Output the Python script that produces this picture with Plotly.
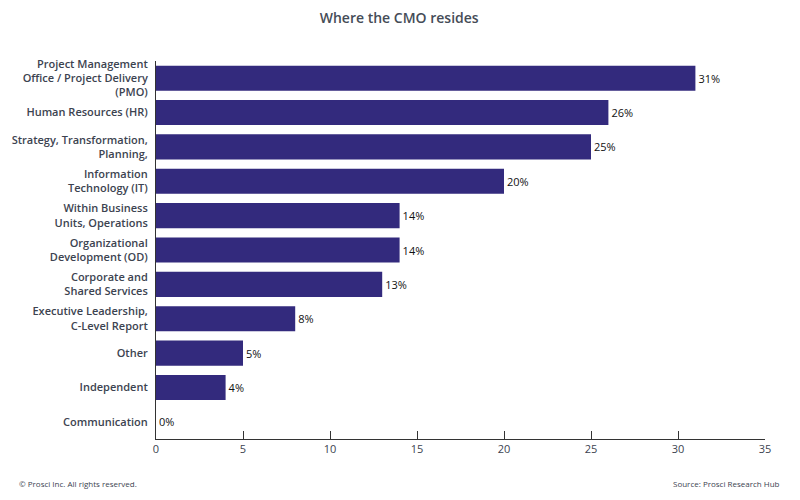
import plotly.graph_objects as go

categories = [
    "Project Management<br>Office / Project Delivery<br>(PMO)",
    "Human Resources (HR)",
    "Strategy, Transformation,<br>Planning,",
    "Information<br>Technology (IT)",
    "Within Business<br>Units, Operations",
    "Organizational<br>Development (OD)",
    "Corporate and<br>Shared Services",
    "Executive Leadership,<br>C-Level Report",
    "Other",
    "Independent",
    "Communication",
]
values = [31, 26, 25, 20, 14, 14, 13, 8, 5, 4, 0]
x_ticks = [0, 5, 10, 15, 20, 25, 30, 35]

bar_color = "#332a7d"
text_color = "#3c4350"
font_family = "Open Sans, sans-serif"

fig = go.Figure(
    go.Bar(
        x=values,
        y=categories,
        orientation="h",
        marker=dict(color=bar_color, line=dict(width=0)),
        text=[f"{v}%" for v in values],
        textposition="outside",
        textfont=dict(family=font_family, size=11, color="#111111"),
        cliponaxis=False,
        width=0.73,
    )
)

fig.update_layout(
    width=800,
    height=500,
    paper_bgcolor="white",
    plot_bgcolor="white",
    margin=dict(l=148, r=43, t=53, b=69),
    showlegend=False,
    title=dict(
        text="Where the CMO resides",
        x=0.489,
        xanchor="center",
        y=0.98,
        yanchor="middle",
        font=dict(family=font_family, size=14, color="#454c57", weight=600),
    ),
    font=dict(family=font_family, color=text_color),
    xaxis=dict(
        range=[0, 35],
        tickvals=x_ticks,
        ticktext=[str(t) for t in x_ticks],
        showgrid=False,
        zeroline=False,
        showline=True,
        linecolor="#333333",
        linewidth=1,
        ticks="inside",
        ticklen=8,
        tickcolor="#333333",
        automargin=False,
        tickfont=dict(family=font_family, size=11, color=text_color),
    ),
    yaxis=dict(
        categoryorder="array",
        categoryarray=categories[::-1],
        autorange=True,
        showgrid=False,
        zeroline=False,
        showline=True,
        linecolor="#333333",
        linewidth=1,
        ticks="",
        ticklabelstandoff=5,
        automargin=False,
        tickfont=dict(family=font_family, size=11, color=text_color, weight=600),
    ),
    annotations=[
        dict(
            text="© Prosci Inc. All rights reserved.",
            xref="paper", yref="paper",
            x=0, y=0,
            xanchor="left", yanchor="middle",
            xshift=-139, yshift=-44,
            showarrow=False,
            font=dict(family=font_family, size=8, color=text_color),
        ),
        dict(
            text="Source: Prosci Research Hub",
            xref="paper", yref="paper",
            x=1, y=0,
            xanchor="right", yanchor="middle",
            xshift=17, yshift=-44,
            showarrow=False,
            font=dict(family=font_family, size=8, color=text_color),
        ),
    ],
)

fig.write_html("out.html")
